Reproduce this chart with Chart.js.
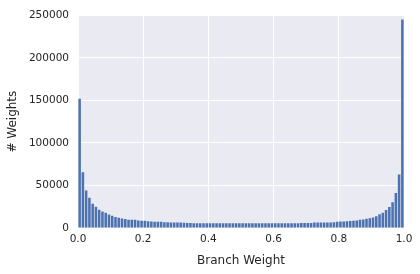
<!DOCTYPE html>
<html><head><meta charset="utf-8">
<script src="https://cdn.jsdelivr.net/npm/chart.js@4"></script>
<style>html,body{margin:0;padding:0;background:#fff}#wrap{width:420px;height:274px}</style>
</head><body><div id="wrap"><canvas id="c" width="420" height="274"></canvas></div>
<script>
const binCount = 100;
const counts = [
152000,65500,44000,35500,28500,25000,21500,19500,18000,16000,
14500,13000,12000,11300,10500,9800,9700,9600,8800,8600,
8400,8000,7500,7400,7300,7200,6800,6700,6600,6600,
6500,6500,6300,5900,5800,5700,5700,5600,5600,5600,
5600,5500,5500,5500,5500,5500,5500,5500,5500,5500,
5500,5500,5500,5500,5500,5500,5500,5500,5600,5600,
5600,5600,5600,5700,5700,5700,5700,5700,5800,5800,
5800,5900,6500,6500,6500,6600,6600,6600,6700,7400,
7600,7700,7900,8200,8500,8800,9600,10000,10800,11500,
12400,13900,16300,17800,21300,24800,30200,41000,63000,245000
];
const xTicks = [0.0,0.2,0.4,0.6,0.8,1.0];
const yTicks = [0,50000,100000,150000,200000,250000];
const xTitle = 'Branch Weight';
const yTitle = '# Weights';

const pts = counts.map((v,i)=>({x:(i+0.5)/binCount, y:v}));
const font = {family:'DejaVu Sans', size:10.5};
const txt = '#262626';
const plotBg = {
  id:'plotBg',
  beforeDraw(chart){
    const {ctx, chartArea:a} = chart;
    ctx.save(); ctx.fillStyle='#EAEAF2';
    ctx.fillRect(a.left,a.top,a.right-a.left,a.bottom-a.top); ctx.restore();
  }
};
new Chart(document.getElementById('c'), {
  type:'bar',
  data:{datasets:[{data:pts, backgroundColor:'#4C72B0', borderWidth:0, barPercentage:0.78, categoryPercentage:1}]},
  plugins:[plotBg],
  options:{
    responsive:false, animation:false,
    layout:{padding:{top:13,right:16,left:0,bottom:6}},
    plugins:{legend:{display:false}, tooltip:{enabled:false}},
    scales:{
      x:{type:'linear', min:0, max:1, offset:false,
         afterBuildTicks:s=>{s.ticks=xTicks.map(v=>({value:v}));},
         ticks:{font, color:txt, padding:5, callback:v=>v.toFixed(1), maxRotation:0},
         grid:{color:'#ffffff', lineWidth:1, drawTicks:false, offset:false},
         border:{display:false},
         title:{display:true, text:xTitle, font:{family:'DejaVu Sans', size:12}, color:txt, padding:{top:4,bottom:0}},
         afterFit:s=>{s.height=40;}
      },
      y:{min:0, max:250000,
         afterBuildTicks:s=>{s.ticks=yTicks.map(v=>({value:v}));},
         ticks:{font, color:txt, padding:9, callback:v=>String(v)},
         grid:{color:'#ffffff', lineWidth:1, drawTicks:false},
         border:{display:false},
         title:{display:true, text:yTitle, font:{family:'DejaVu Sans', size:12}, color:txt, padding:{top:6,bottom:4}},
         afterFit:s=>{s.width=78;}
      }
    }
  }
});
</script></body></html>
